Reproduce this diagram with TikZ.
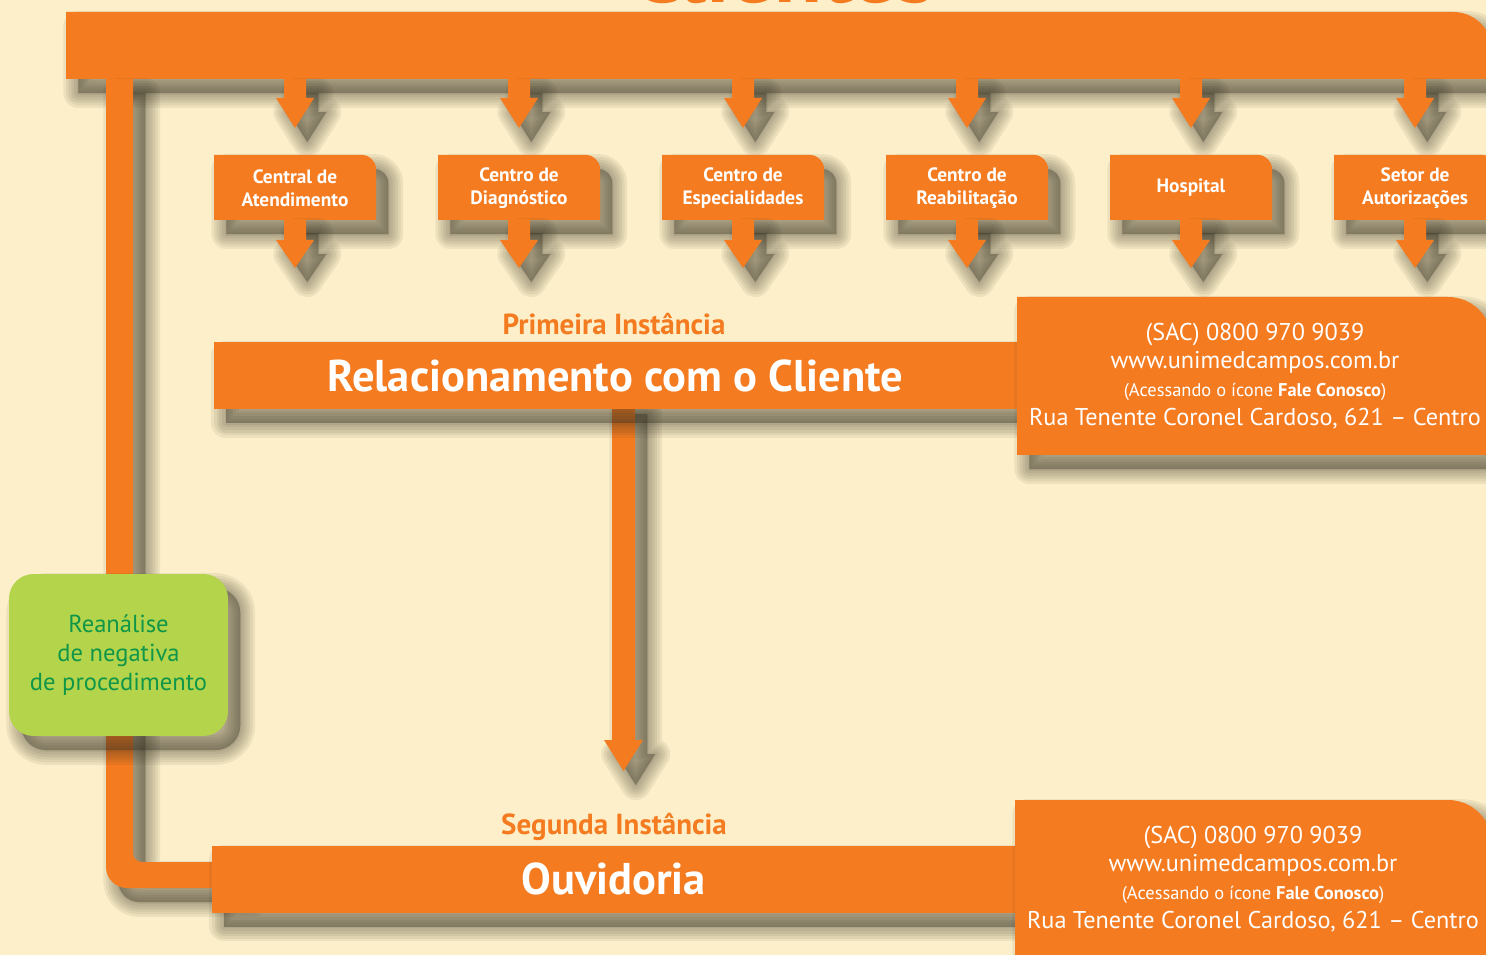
\documentclass[tikz,border=0pt]{standalone}
\usepackage{fontspec}
\setmainfont{PT Sans}
\usepackage{tikz}
\usetikzlibrary{calc}

\definecolor{cream}{RGB}{252,239,201}
\definecolor{unorange}{RGB}{244,123,32}
\definecolor{lime}{RGB}{180,212,75}
\definecolor{leafgreen}{RGB}{16,150,72}
\definecolor{shadowtone}{RGB}{55,50,35}

\tikzset{
  shadowstep/.style={preaction={draw=shadowtone, fill=shadowtone,
      draw opacity=.075, fill opacity=.075, line width=#1, line join=round,
      transform canvas={shift={(7pt,-8pt)}}}},
  castshadow/.style={shadowstep=17pt, shadowstep=14pt, shadowstep=11pt,
      shadowstep=8pt, shadowstep=5pt, shadowstep=2pt},
  boxlabel/.style={text=white, font=\bfseries\fontsize{11}{12.8}\selectfont,
      align=center, inner sep=0pt},
  barnode/.style={fill=unorange, castshadow, text=white,
      font=\bfseries\fontsize{25.3}{28}\selectfont,
      minimum width=16.06cm, minimum height=1.34cm, inner sep=0pt},
  levellabel/.style={text=unorange, font=\bfseries\fontsize{16.5}{18}\selectfont},
  contact/.style={text=white, align=center, inner sep=0pt,
      font=\fontsize{13.8}{16.1}\selectfont},
  greenbox/.style={fill=lime, castshadow, rounded corners=14pt,
      minimum width=4.38cm, minimum height=3.24cm, inner sep=0pt,
      text=leafgreen, align=center, font=\fontsize{14}{16.4}\selectfont}
}

\begin{document}
\begin{tikzpicture}[x=0.02cm, y=-0.02cm]
  \useasboundingbox (0,0) rectangle (1486,955);
  \clip (0,0) rectangle (1486,955);
  \fill[cream] (0,0) rectangle (1486,955);

  % title, cut off by the page top
  \node[text=unorange, font=\bfseries\fontsize{50}{50}\selectfont, anchor=base] (title) at (783,3) {Clientes};

  % top bar and the return line on the left
  \fill[unorange, castshadow] (66,79) -- (66,12) -- (1000,12) [rounded corners=22pt] -- (1492,12) -- (1492,50) [sharp corners] -- (1492,79) -- cycle;
  \fill[unorange, castshadow] (120,79) -- (106,79) -- (106,500) [rounded corners=12pt] -- (106,888) -- (180,888) [sharp corners] -- (240,888) -- (240,862) -- (180,862) [rounded corners=5pt] -- (133,862) -- (133,500) [sharp corners] -- (133,79) -- cycle;

  % units
  \foreach \lbl [count=\i from 0] in {{Central de\\Atendimento},{Centro de\\Diagnóstico},{Centro de\\Especialidades},{Centro de\\Reabilitação},{Hospital},{Setor de\\Autorizações}}{
    \pgfmathsetmacro\cx{295+224*\i}
    \fill[unorange, castshadow] (\cx-11,79) -- (\cx+11,79) -- (\cx+11,98) -- (\cx+19,98) -- (\cx,128) -- (\cx-19,98) -- (\cx-11,98) -- cycle;
    \fill[unorange, castshadow] (\cx-81,220) -- (\cx-81,155) -- (\cx,155) [rounded corners=8pt] -- (\cx+81,155) -- (\cx+81,188) [sharp corners] -- (\cx+81,220) -- cycle;
    \fill[unorange, castshadow] (\cx-11,219) -- (\cx+11,219) -- (\cx+11,240) -- (\cx+19,240) -- (\cx,268) -- (\cx-19,240) -- (\cx-11,240) -- cycle;
    \node[boxlabel] (unit\i) at (\cx,188) {\lbl};
  }

  % first level
  \fill[unorange, castshadow] (612,400) -- (635,400) -- (635,740) -- (643,740) -- (623.5,771) -- (604,740) -- (612,740) -- cycle;
  \node[barnode] (rel) at (615.5,375.5) {Relacionamento com o Cliente};
  \node[levellabel] (first) at (614,324) {Primeira Instância};
  \fill[unorange, castshadow] (1017,455) -- (1017,297) -- (1300,297) [rounded corners=25pt] -- (1492,297) -- (1492,380) [sharp corners] -- (1492,455) -- cycle;
  \node[contact] (sac1) at (1255,376) {(SAC) 0800 970 9039\\ www.unimedcampos.com.br\\ {\fontsize{10.5}{16.1}\selectfont (Acessando o ícone \textbf{Fale Conosco})}\\ Rua Tenente Coronel Cardoso, 621 – Centro};

  % second level
  \node[barnode] (ouv) at (613.5,879) {Ouvidoria};
  \node[levellabel] (second) at (614,827) {Segunda Instância};
  \fill[unorange, castshadow] (1015,975) -- (1015,800) -- (1300,800) [rounded corners=25pt] -- (1492,800) -- (1492,880) [sharp corners] -- (1492,975) -- cycle;
  \node[contact] (sac2) at (1253,879) {(SAC) 0800 970 9039\\ www.unimedcampos.com.br\\ {\fontsize{10.5}{16.1}\selectfont (Acessando o ícone \textbf{Fale Conosco})}\\ Rua Tenente Coronel Cardoso, 621 – Centro};

  % review of denied procedures
  \node[greenbox] (review) at (118.5,655) {Reanálise\\de negativa\\de procedimento};
\end{tikzpicture}
\end{document}
